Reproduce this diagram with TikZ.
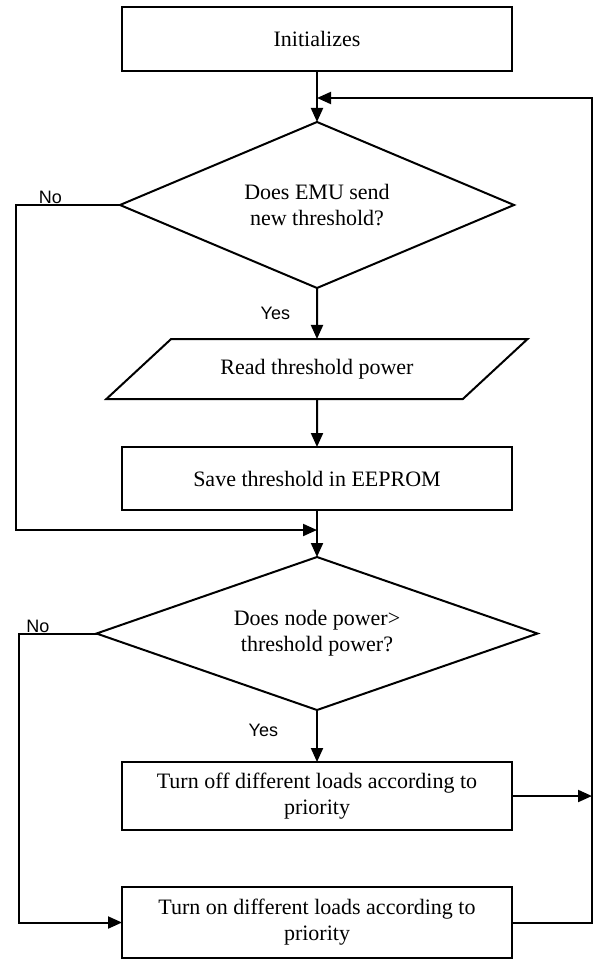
\documentclass[tikz,border=0pt]{standalone}
\usepackage{fontspec}
\setmainfont{Liberation Serif}
\newfontfamily\labelfont{Liberation Sans}
\usetikzlibrary{shapes.geometric, arrows.meta, positioning, calc}

\begin{document}
\begin{tikzpicture}[
    process/.style={rectangle, draw, line width=1pt, outer sep=0pt, minimum width=195pt, minimum height=32pt, align=center, font=\fontsize{11}{13}\selectfont},
    decision/.style={diamond, draw, line width=1pt, outer sep=0pt, inner sep=0pt, align=center, font=\fontsize{11}{13}\selectfont},
    io/.style={trapezium, trapezium left angle=36, trapezium right angle=144, trapezium stretches=true, draw, line width=1pt, outer sep=0pt, minimum width=211pt, minimum height=30pt, font=\fontsize{11}{13}\selectfont},
    arrow/.style={-{Triangle[length=7pt, width=6pt]}, line width=1pt},
    tag/.style={font=\labelfont\fontsize{9}{10}\selectfont, inner sep=1pt}
]
    \useasboundingbox (0,0) rectangle (297pt,-480.5pt);

    \node[process] (init) at (158.5pt,-19.5pt) {Initializes};
    \node[decision, shape aspect=2.4, minimum width=197pt, minimum height=83pt, below=25.5pt of init] (emu) {Does EMU send\\new threshold?};
    \node[io, below=25.5pt of emu] (read) {Read threshold power};
    \node[process, minimum height=31.5pt, below=24pt of read] (save) {Save threshold in EEPROM};
    \node[decision, shape aspect=2.9, minimum width=220.5pt, minimum height=76.5pt, below=23.5pt of save] (cmp) {Does node power>\\threshold power?};
    \node[process, minimum height=34pt, below=26pt of cmp] (off) {Turn off different loads according to\\priority};
    \node[process, minimum height=35.5pt, below=28.5pt of off] (on) {Turn on different loads according to\\priority};

    \coordinate[below=13.5pt of init.south] (merge);
    \coordinate[below=10pt of save.south] (join);
    \coordinate[right=40pt of off.east] (rail);

    \draw[arrow] (init) -- (emu);
    \draw[arrow] (emu) -- node[tag, left=12pt] {Yes} (read);
    \draw[arrow] (emu.west) -- node[tag, above, inner sep=0pt, pos=0.67] {No} ++(-52pt,0) |- (join);
    \draw[arrow] (read) -- (save);
    \draw[arrow] (save) -- (cmp);
    \draw[arrow] (cmp) -- node[tag, left=18pt, pos=0.4] {Yes} (off);
    \draw[arrow] (cmp.west) -- node[tag, above, inner sep=0pt, pos=0.75] {No} ++(-39pt,0) |- (on.west);
    \draw[arrow] (off.east) -- (rail);
    \draw[arrow] (on.east) -| (rail) |- (merge);
\end{tikzpicture}
\end{document}
